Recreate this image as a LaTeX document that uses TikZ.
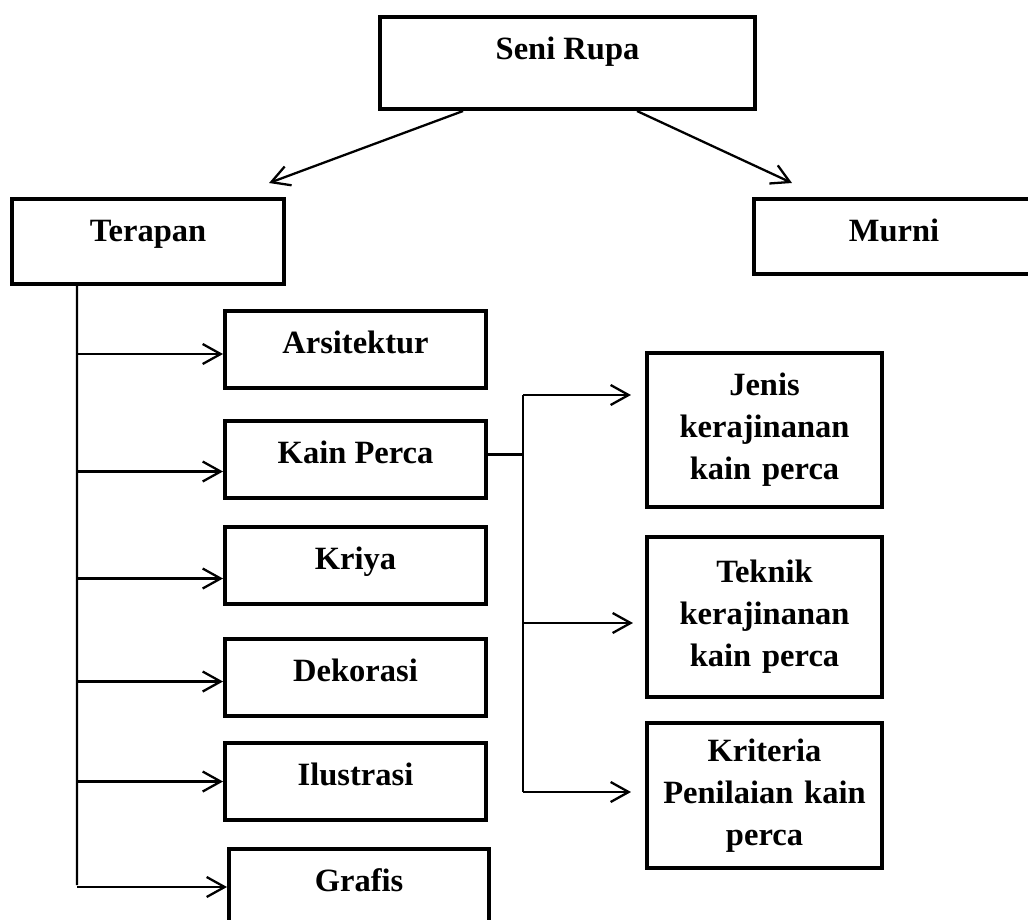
\documentclass[tikz,border=0pt]{standalone}
\usepackage{fontspec}
\setmainfont{Liberation Serif}
\usetikzlibrary{arrows.meta}

\begin{document}
\begin{tikzpicture}[
        >={Straight Barb[length=3.6mm,width=4mm]},
        kotak/.style={draw, line width=2.3pt, anchor=north west, minimum width=5.22cm,
            inner ysep=0pt, text height=.84cm, text depth=.7cm,
            font=\fontsize{18.5}{24}\selectfont\bfseries},
        kotakb/.style={draw, line width=2.3pt, minimum width=4.7cm, text width=4.4cm,
            align=center, inner ysep=0pt, font=\fontsize{18.5}{24}\selectfont\bfseries},
        garis/.style={line width=1.3pt}
    ]

        \useasboundingbox (0,0) rectangle (20.56,-18.4);
        \clip (0,0) rectangle (20.56,-18.4);

        \node[kotak, minimum width=7.5cm, text depth=1cm] (seni) at (7.56,-0.30) {Seni Rupa};
        \node[kotak, minimum width=5.44cm, text depth=.86cm] (terapan) at (0.20,-3.94) {Terapan};
        \node[kotak, minimum width=5.6cm, text depth=.66cm] (murni) at (15.04,-3.94) {Murni};

        \node[kotak] (arsi) at (4.46,-6.18) {Arsitektur};
        \node[kotak] (kain) at (4.46,-8.38) {Kain Perca};
        \node[kotak] (kriya) at (4.46,-10.50) {Kriya};
        \node[kotak] (dekor) at (4.46,-12.74) {Dekorasi};
        \node[kotak] (ilus) at (4.46,-14.82) {Ilustrasi};
        \node[kotak, minimum width=5.2cm, text depth=1.6cm] (grafis) at (4.54,-16.94) {Grafis};

        \node[kotakb, minimum height=3.08cm] (jenis) at (15.29,-8.60) {Jenis\\ kerajinanan\\ kain perca};
        \node[kotakb, minimum height=3.2cm] (teknik) at (15.29,-12.34) {Teknik\\ kerajinanan\\ kain perca};
        \node[kotakb, minimum height=2.9cm] (kriteria) at (15.29,-15.91) {Kriteria\\ Penilaian kain\\ perca};

        \draw[garis, ->] ([xshift=1.7cm]seni.south west) -- ([xshift=-.34cm, yshift=.28cm]terapan.north east);
        \draw[garis, ->] ([xshift=-2.4cm]seni.south east) -- ([xshift=.8cm, yshift=.28cm]murni.north west);

        \coordinate (batang) at ([xshift=1.34cm]terapan.south west);
        \coordinate (dasar) at (1.54,-17.70);
        \draw[garis] (batang) -- (dasar);

        \coordinate (arsiL) at ([yshift=-.09cm]arsi.west);
        \coordinate (kainL) at ([yshift=-.24cm]kain.west);
        \coordinate (kriyaL) at ([yshift=-.26cm]kriya.west);
        \coordinate (dekorL) at ([yshift=-.08cm]dekor.west);
        \coordinate (ilusL) at (ilus.west);
        \coordinate (grafisL) at ([yshift=-.8cm]grafis.north west);

        \draw[garis, ->] (batang |- arsiL) -- (arsiL);
        \draw[garis, ->] (batang |- kainL) -- (kainL);
        \draw[garis, ->] (batang |- kriyaL) -- (kriyaL);
        \draw[garis, ->] (batang |- dekorL) -- (dekorL);
        \draw[garis, ->] (batang |- ilusL) -- (ilusL);
        \draw[garis, ->] (batang |- grafisL) -- (grafisL);

        \coordinate (cabang) at ([xshift=.7cm, yshift=.1cm]kain.east);
        \coordinate (jenisL) at ([xshift=-.28cm, yshift=.7cm]jenis.west);
        \coordinate (teknikL) at ([xshift=-.24cm, yshift=-.12cm]teknik.west);
        \coordinate (kritL) at ([xshift=-.28cm, yshift=.07cm]kriteria.west);

        \draw[garis] ([yshift=.1cm]kain.east) -- (cabang);
        \draw[garis] (cabang |- jenisL) -- (cabang |- kritL);
        \draw[garis, ->] (cabang |- jenisL) -- (jenisL);
        \draw[garis, ->] (cabang |- teknikL) -- (teknikL);
        \draw[garis, ->] (cabang |- kritL) -- (kritL);
    \end{tikzpicture}
\end{document}
